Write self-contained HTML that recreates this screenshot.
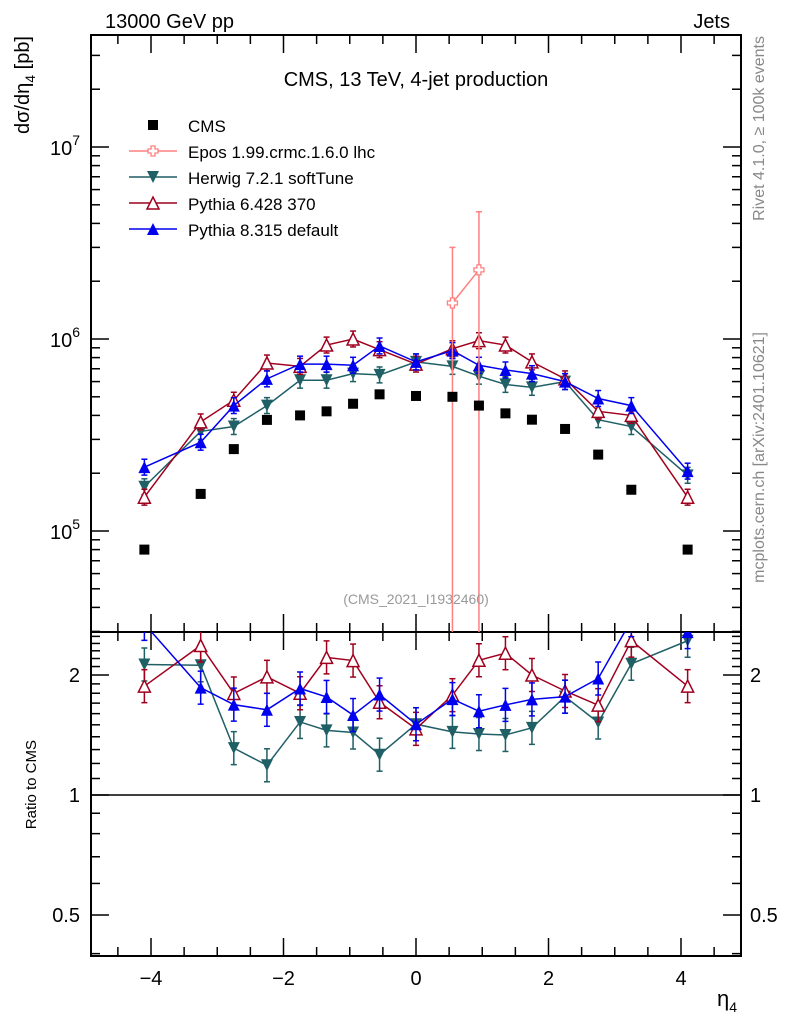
<!DOCTYPE html>
<html><head><meta charset="utf-8"><style>
body{margin:0;background:#fff;}
svg text{font-family:"Liberation Sans",sans-serif;}
</style></head><body>
<svg id="c" width="786" height="1024" xmlns="http://www.w3.org/2000/svg"></svg>
<script>
const xs=[-4.1,-3.25,-2.75,-2.25,-1.75,-1.35,-0.95,-0.55,0,0.55,0.95,1.35,1.75,2.25,2.75,3.25,4.1];
const cms=[8.0e4,1.56e5,2.67e5,3.79e5,4.0e5,4.2e5,4.6e5,5.15e5,5.05e5,5.0e5,4.5e5,4.1e5,3.8e5,3.4e5,2.5e5,1.64e5,8.0e4];
const herwig=[1.7e5,3.3e5,3.5e5,4.5e5,6.1e5,6.1e5,6.6e5,6.5e5,7.6e5,7.2e5,6.4e5,5.8e5,5.6e5,6.0e5,3.8e5,3.5e5,1.95e5];
const py6=[1.5e5,3.7e5,4.8e5,7.5e5,7.2e5,9.3e5,1.0e6,8.8e5,7.4e5,8.9e5,9.8e5,9.3e5,7.6e5,6.2e5,4.2e5,4.0e5,1.5e5];
const py8=[2.15e5,2.9e5,4.5e5,6.2e5,7.4e5,7.4e5,7.3e5,9.2e5,7.6e5,8.7e5,7.3e5,6.9e5,6.6e5,6.0e5,4.9e5,4.5e5,2.05e5];
const eposX=[0.55,0.95];
const epos=[1.54e6,2.29e6];
const eposHi=[3.0e6,4.6e6];
const xTicks=[-4,-2,0,2,4];
const yTicks=[5,6,7];
const rTicks=[0.5,1,2];

const S=document.getElementById('c');const NS='http://www.w3.org/2000/svg';
function el(t,a,p){const e=document.createElementNS(NS,t);for(const k in a)e.setAttribute(k,a[k]);(p||S).appendChild(e);return e;}
const L=91,R=741,T=35,M=632,B=956;
const X=v=>416+v*66.25;
const Y=v=>339-192*(Math.log10(v)-6);
const RY=r=>795-120*Math.log2(r);
const defs=el('defs',{});
const c1=el('clipPath',{id:'cm'},defs);el('rect',{x:L,y:T,width:R-L,height:M-T},c1);
const c2=el('clipPath',{id:'cr'},defs);el('rect',{x:L,y:M,width:R-L,height:B-M},c2);
let f=el('rect',{x:L,y:T,width:R-L,height:M-T,fill:'none',stroke:'#000','stroke-width':2});

f=el('rect',{x:L,y:M,width:R-L,height:B-M,fill:'none',stroke:'#000','stroke-width':2});

for(let v=-5;v<=5;v+=0.5){const px=X(v);if(px<L||px>R)continue;const maj=Number.isInteger(v)&&v%2===0;const h=maj?18:9;
 [[T,1],[M,1],[M,-1],[B,-1]].forEach(([y0,d])=>el('line',{x1:px,x2:px,y1:y0,y2:y0+d*h,stroke:'#000','stroke-width':1.5}));}
xTicks.forEach(v=>{const t=el('text',{x:X(v),y:985,'font-size':20,'text-anchor':'middle'});t.textContent=v<0?'\u2212'+(-v):v;
 });
for(let d=4;d<=7;d++)for(let m=1;m<10;m++){const py=Y(m*Math.pow(10,d));if(py<T||py>M)continue;const h=m===1?18:9;
 el('line',{x1:L,x2:L+h,y1:py,y2:py,stroke:'#000','stroke-width':1.5});el('line',{x1:R,x2:R-h,y1:py,y2:py,stroke:'#000','stroke-width':1.5});}
yTicks.forEach(d=>{const g=el('text',{x:80,y:Y(Math.pow(10,d))+8,'font-size':20,'text-anchor':'end'});g.innerHTML='10<tspan dy="-10" font-size="14">'+d+'</tspan>';
 });
for(let r=0.4;r<=2.6;r+=0.1){const py=RY(r);if(py<M||py>B)continue;const maj=rTicks.some(t=>Math.abs(t-r)<1e-6);const h=maj?18:9;
 el('line',{x1:L,x2:L+h,y1:py,y2:py,stroke:'#000','stroke-width':1.5});el('line',{x1:R,x2:R-h,y1:py,y2:py,stroke:'#000','stroke-width':1.5});}
rTicks.forEach(r=>{[[80,'end'],[750,'start']].forEach(([x,a])=>{const t=el('text',{x:x,y:RY(r)+7,'font-size':20,'text-anchor':a});t.textContent=r;
 });});
el('line',{x1:L,x2:R,y1:RY(1),y2:RY(1),stroke:'#000','stroke-width':1.5});
function marker(g,type,x,y,col){const s=6;
 if(type==='sq')return el('rect',{x:x-5,y:y-5,width:10,height:10,fill:col},g);
 if(type==='dn')return el('polygon',{points:`${x-s},${y-s} ${x+s},${y-s} ${x},${y+s}`,fill:col},g);
 if(type==='up')return el('polygon',{points:`${x-s},${y+s} ${x+s},${y+s} ${x},${y-s}`,fill:col},g);
 if(type==='upo')return el('polygon',{points:`${x-s},${y+s} ${x+s},${y+s} ${x},${y-s}`,fill:'#fff',stroke:col,'stroke-width':1.5},g);
 if(type==='cross')return el('path',{d:`M${x-2},${y-5}h4v3h3v4h-3v3h-4v-3h-3v-4h3z`,fill:'#fff',stroke:col,'stroke-width':1.3},g);}
function series(name,vals,xv,col,type,err,ratio,clip){
 const g=el('g',{'clip-path':`url(#${clip})`});
 const yf=ratio?(i=>RY(vals[i]/cms[xs.indexOf(xv[i])])):(i=>Y(vals[i]));
 if(type!=='sq'){let d='';xv.forEach((x,i)=>d+=(i?'L':'M')+X(x)+','+yf(i));el('path',{d:d,fill:'none',stroke:col,'stroke-width':1.5},g);}
 xv.forEach((x,i)=>{const y=yf(i);
  if(err){const e=err(i);el('line',{x1:X(x),x2:X(x),y1:e[0],y2:e[1],stroke:col,'stroke-width':1.5},g);
   [e[0],e[1]].forEach(yy=>el('line',{x1:X(x)-3,x2:X(x)+3,y1:yy,y2:yy,stroke:col,'stroke-width':1.5},g));}
  marker(g,type,X(x),y,col);});}
const mcs=[['herwig',herwig,'#1f5f66','dn'],['pythia6',py6,'#a0001e','upo'],['pythia8',py8,'#0000ee','up']];
mcs.forEach(([n,v,c,t])=>{
 series(n+'-main',v,xs,c,t,i=>[Y(v[i]*1.1),Y(v[i]/1.1)],false,'cm');
 series(n+'-ratio',v,xs,c,t,i=>{const r=v[i]/cms[i];return[RY(r*1.1),RY(r/1.1)];},true,'cr');});
series('epos-main',epos,eposX,'#ff8080','cross',i=>[Y(eposHi[i]),M+5],false,'cm');
series('cms-data',cms,xs,'#000','sq',null,false,'cm');
function txt(s,a,name,html){const t=el('text',a);if(html)t.innerHTML=s;else t.textContent=s;return t;}
txt('13000 GeV pp',{x:105,y:28,'font-size':20},'energy-label');
txt('Jets',{x:730,y:28,'font-size':20,'text-anchor':'end'},'process-label');
txt('CMS, 13 TeV, 4-jet production',{x:416,y:86,'font-size':20,'text-anchor':'middle'},'plot-title');
txt('(CMS_2021_I1932460)',{x:416,y:604,'font-size':14,fill:'#999','text-anchor':'middle'},'analysis-id');
txt('Rivet 4.1.0, \u2265 100k events',{x:0,y:0,'font-size':16,fill:'#888','text-anchor':'end',transform:'translate(764,36) rotate(-90)'},'rivet-label');
txt('mcplots.cern.ch [arXiv:2401.10621]',{x:0,y:0,'font-size':16,fill:'#888','text-anchor':'end',transform:'translate(764,332) rotate(-90)'},'mcplots-label');
txt('d\u03c3/d\u03b7<tspan dy="6" font-size="14">4</tspan><tspan dy="-6"> [pb]</tspan>',{x:0,y:0,'font-size':20,'text-anchor':'end',transform:'translate(29,36) rotate(-90)'},'y-axis-title',true);
txt('Ratio to CMS',{x:0,y:0,'font-size':15,'text-anchor':'end',transform:'translate(36,740) rotate(-90)'},'ratio-axis-title');
txt('\u03b7<tspan dy="6" font-size="14">4</tspan>',{x:717,y:1006,'font-size':22},'x-axis-title',true);
const leg=[['CMS','#000','sq',false],['Epos 1.99.crmc.1.6.0 lhc','#ff8080','cross',true],['Herwig 7.2.1 softTune','#1f5f66','dn',true],['Pythia 6.428 370','#a0001e','upo',true],['Pythia 8.315 default','#0000ee','up',true]];
leg.forEach(([s,c,t,line],i)=>{const y=125+i*26;const g=el('g',{});
 if(line)el('line',{x1:129,x2:177,y1:y,y2:y,stroke:c,'stroke-width':1.5},g);
 marker(g,t,153,y,c);const tx=el('text',{x:188,y:y+7,'font-size':17},g);tx.textContent=s;});
</script>
</body></html>
